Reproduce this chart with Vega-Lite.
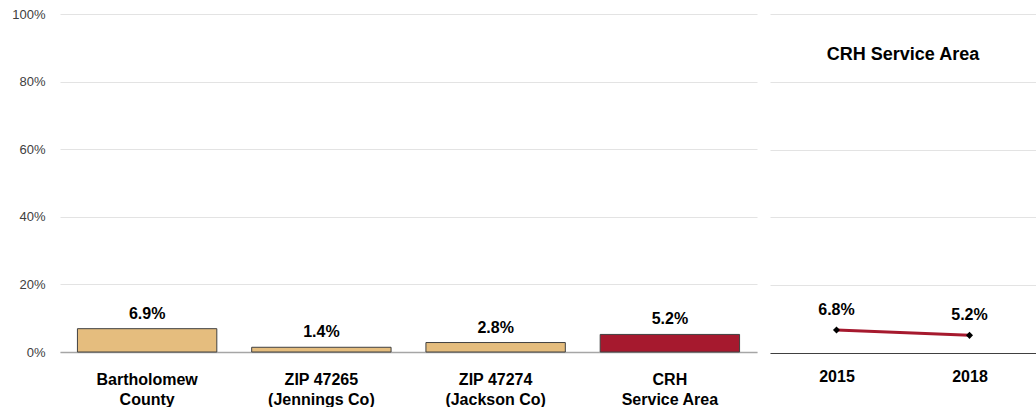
{
  "$schema": "https://vega.github.io/schema/vega-lite/v6.json",
  "padding": {"left": 11, "top": 8, "right": 0, "bottom": 0},
  "background": "white",
  "spacing": 13,
  "config": {
    "view": {"stroke": null},
    "font": "Liberation Sans",
    "axis": {"gridColor": "#e3e3e3", "gridWidth": 1, "ticks": false, "title": null, "labelOverlap": false}
  },
  "hconcat": [
    {
      "width": 697,
      "height": 338,
      "data": {
        "values": [
          {"area": "Bartholomew|County", "value": 0.069, "label": "6.9%", "kind": "county"},
          {"area": "ZIP 47265|(Jennings Co)", "value": 0.014, "label": "1.4%", "kind": "county"},
          {"area": "ZIP 47274|(Jackson Co)", "value": 0.028, "label": "2.8%", "kind": "county"},
          {"area": "CRH|Service Area", "value": 0.052, "label": "5.2%", "kind": "crh"}
        ]
      },
      "encoding": {
        "x": {
          "field": "area", "type": "nominal", "sort": null,
          "scale": {"paddingInner": 0.2, "paddingOuter": 0.1},
          "axis": {
            "labelAngle": 0, "labelExpr": "split(datum.label, '|')",
            "labelFont": "Liberation Sans", "labelFontWeight": "bold", "labelFontSize": 16,
            "labelColor": "#000000", "labelLineHeight": 20, "labelPadding": 19,
            "domainColor": "#a6a6a6", "domainWidth": 1.5, "grid": false
          }
        },
        "y": {
          "field": "value", "type": "quantitative",
          "scale": {"domain": [0, 1]},
          "axis": {
            "format": ".0%", "values": [0, 0.2, 0.4, 0.6, 0.8, 1],
            "labelFontSize": 13, "labelColor": "#404040", "labelPadding": 15,
            "domain": false, "grid": true
          }
        }
      },
      "layer": [
        {
          "mark": {"type": "bar", "stroke": "#404040", "strokeWidth": 1},
          "encoding": {
            "color": {
              "field": "kind", "type": "nominal",
              "scale": {"domain": ["county", "crh"], "range": ["#e5bd7e", "#a6192e"]},
              "legend": null
            }
          }
        },
        {
          "mark": {"type": "text", "fontSize": 16, "fontWeight": "bold", "baseline": "bottom", "dy": -7, "color": "#000000"},
          "encoding": {"text": {"field": "label"}}
        }
      ]
    },
    {
      "width": 266,
      "height": 339,
      "layer": [
        {
          "data": {
            "values": [
              {"year": "2015", "value": 0.068, "label": "6.8%"},
              {"year": "2018", "value": 0.052, "label": "5.2%"}
            ]
          },
          "encoding": {
            "x": {
              "field": "year", "type": "ordinal",
              "scale": {"type": "point", "padding": 0.5},
              "axis": {
                "labelAngle": 0, "labelFontWeight": "bold", "labelFontSize": 16,
                "labelColor": "#000000", "labelPadding": 15,
                "domainColor": "#404040", "domainWidth": 1, "grid": false
              }
            },
            "y": {
              "field": "value", "type": "quantitative",
              "scale": {"domain": [0, 1]},
              "axis": {
                "labels": false, "domain": false, "grid": true,
                "values": [0, 0.2, 0.4, 0.6, 0.8, 1], "minExtent": 0, "maxExtent": 0
              }
            }
          },
          "layer": [
            {"mark": {"type": "line", "color": "#a6192e", "strokeWidth": 3}},
            {"mark": {"type": "point", "shape": "diamond", "filled": true, "color": "#000000", "size": 50, "opacity": 1}},
            {
              "mark": {"type": "text", "fontSize": 16, "fontWeight": "bold", "baseline": "bottom", "dy": -12, "color": "#000000"},
              "encoding": {"text": {"field": "label"}}
            }
          ]
        },
        {
          "data": {"values": [{"title": "CRH Service Area", "pos": 0.88}]},
          "mark": {"type": "text", "fontSize": 18, "fontWeight": "bold", "color": "#000000"},
          "encoding": {
            "y": {"field": "pos", "type": "quantitative"},
            "text": {"field": "title"}
          }
        }
      ]
    }
  ]
}
